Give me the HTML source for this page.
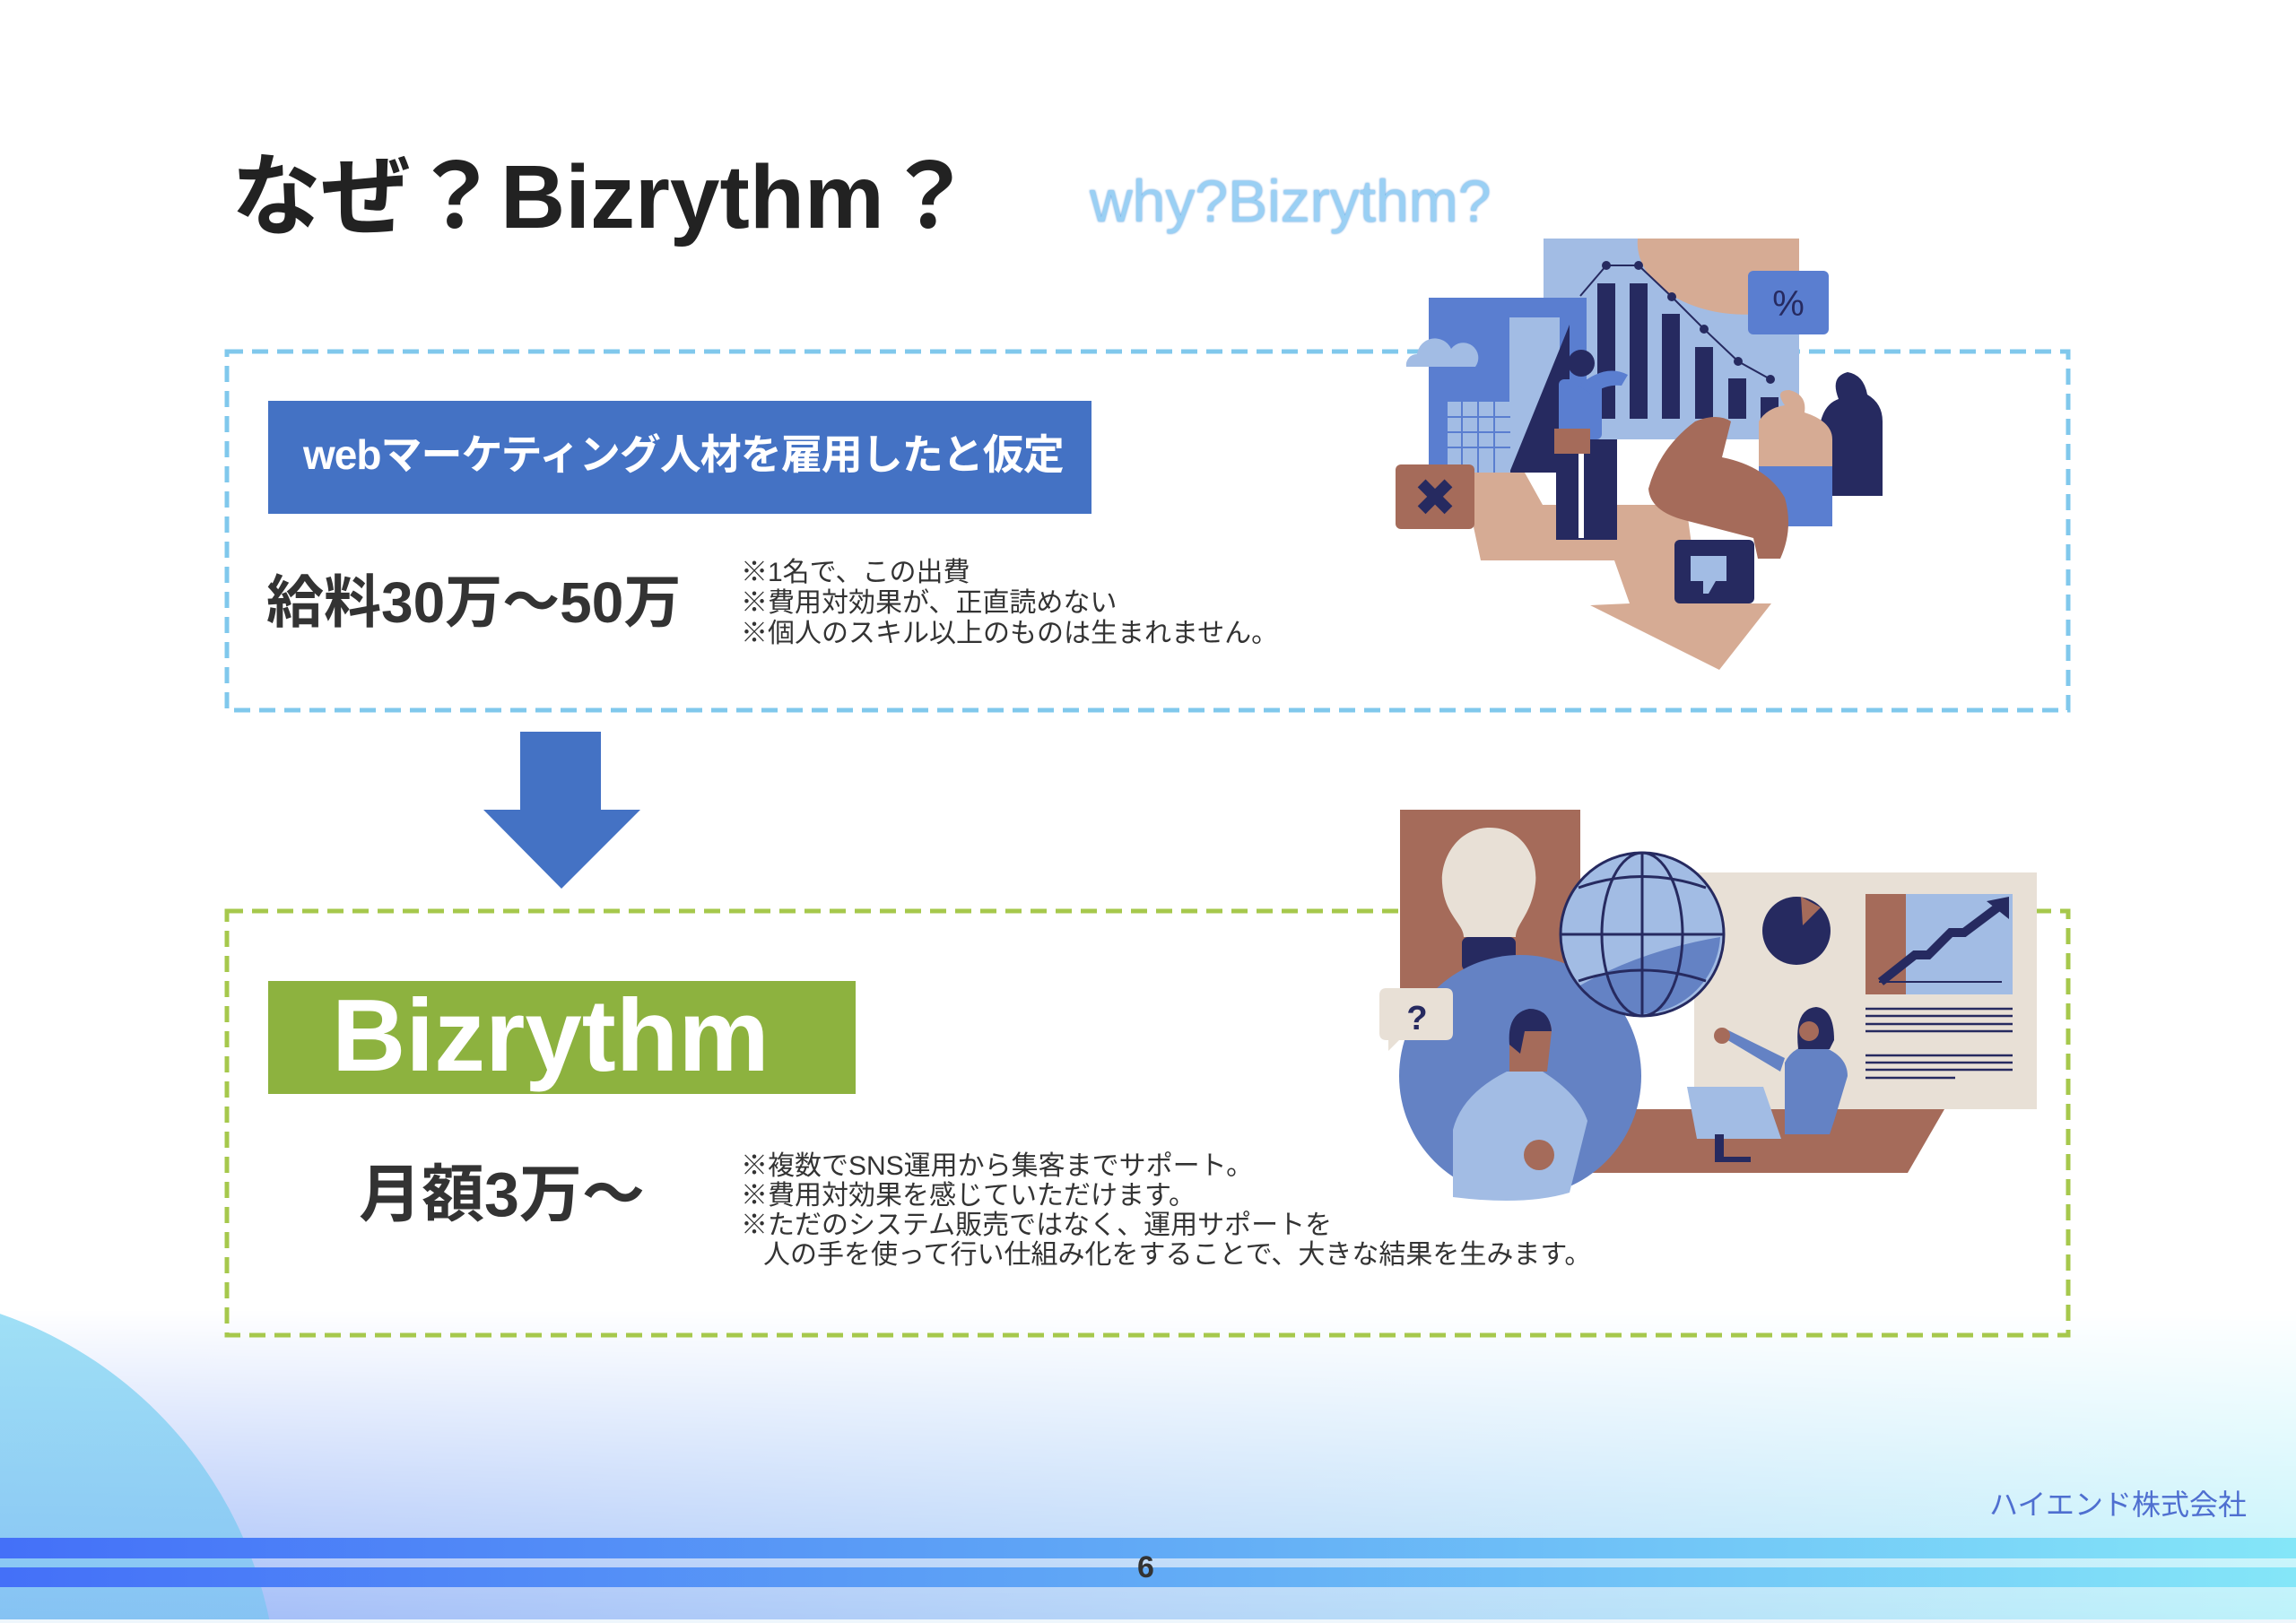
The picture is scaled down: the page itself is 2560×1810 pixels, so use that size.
<!DOCTYPE html>
<html style="overflow:hidden;width:2560px;height:1810px"><head><meta charset="utf-8">
<style>
html,body{margin:0;padding:0}
body{width:2560px;height:1810px;position:relative;overflow:hidden;background:#fff;font-family:"Liberation Sans","Noto Sans CJK JP",sans-serif;color:#2a2a2a}
.a{position:absolute;white-space:nowrap}
</style></head><body>
<svg class="a" style="left:0;top:0;display:block" width="2560" height="1810">
<defs>
<linearGradient id="bgh" x1="0" y1="0" x2="1" y2="0">
<stop offset="0" stop-color="#a0b8f8"/>
<stop offset="0.5" stop-color="#b4d4f8"/>
<stop offset="1" stop-color="#bcf2fa"/>
</linearGradient>
<linearGradient id="mg" x1="0" y1="0" x2="0" y2="1">
<stop offset="0" stop-color="#fff" stop-opacity="0"/>
<stop offset="1" stop-color="#fff" stop-opacity="1"/>
</linearGradient>
<mask id="m"><rect x="0" y="1460" width="2560" height="350" fill="url(#mg)"/></mask>
<linearGradient id="st" x1="0" y1="0" x2="1" y2="0">
<stop offset="0" stop-color="#4470f8"/>
<stop offset="0.45" stop-color="#5ea4f6"/>
<stop offset="1" stop-color="#84e6f8"/>
</linearGradient>
<linearGradient id="cir" x1="0" y1="0" x2="0" y2="1">
<stop offset="0" stop-color="#90dcf4"/>
<stop offset="1" stop-color="#6aa0f0"/>
</linearGradient>
</defs>
<rect x="0" y="1460" width="2560" height="350" fill="url(#bgh)" mask="url(#m)"/>
<circle cx="-150" cy="1900" r="460" fill="url(#cir)" opacity="0.85"/>
<rect x="0" y="1715" width="2560" height="23" fill="url(#st)"/>
<rect x="0" y="1748" width="2560" height="22" fill="url(#st)"/>
<rect x="0" y="1806" width="2560" height="4" fill="#eef6fc"/>

<rect x="253" y="392" width="2053" height="400" fill="none" stroke="#80c8ec" stroke-width="5" stroke-dasharray="18 10"/>
<rect x="253" y="1016" width="2053" height="473" fill="none" stroke="#a6c84c" stroke-width="5" stroke-dasharray="18 10"/>

<polygon points="580,816 670,816 670,903 714,903 626,991 539,903 580,903" fill="#4472c4"/>

<rect x="1721" y="266" width="285" height="224" fill="#a2bce4"/>
<path d="M1826,266 L2006,266 L2006,340 A120,80 0 0 1 1826,266Z" fill="#d6ab94"/>
<rect x="1593" y="332" width="176" height="195" fill="#5a7ed0"/>
<path d="M1568,409 a12,12 0 0 1 12,-14 a20,20 0 0 1 38,-6 a14,14 0 0 1 27,20Z" fill="#a2bce4"/>
<rect x="1683" y="354" width="56" height="173" fill="#a2bce4"/>
<polygon points="1683,527 1750,362 1750,527" fill="#262a60"/>
<rect x="1614" y="448" width="70" height="79" fill="#a2bce4"/>
<g stroke="#5a7ed0" stroke-width="2"><line x1="1614" y1="465" x2="1684" y2="465"/><line x1="1614" y1="482" x2="1684" y2="482"/><line x1="1614" y1="499" x2="1684" y2="499"/><line x1="1630" y1="448" x2="1630" y2="527"/><line x1="1648" y1="448" x2="1648" y2="527"/><line x1="1666" y1="448" x2="1666" y2="527"/></g>
<g fill="#262a60">
<rect x="1781" y="316" width="20" height="151"/><rect x="1817" y="316" width="20" height="151"/><rect x="1853" y="350" width="20" height="117"/><rect x="1890" y="387" width="20" height="80"/><rect x="1927" y="422" width="20" height="45"/><rect x="1963" y="443" width="20" height="24"/>
</g>
<polyline points="1762,330 1791,296 1827,296 1864,331 1900,367 1938,403 1974,423" fill="none" stroke="#262a60" stroke-width="2"/>
<g fill="#262a60"><circle cx="1791" cy="296" r="5"/><circle cx="1827" cy="296" r="5"/><circle cx="1864" cy="331" r="5"/><circle cx="1900" cy="367" r="5"/><circle cx="1938" cy="403" r="5"/><circle cx="1974" cy="423" r="5"/></g>
<rect x="1949" y="302" width="90" height="71" rx="6" fill="#5a7ed0"/>
<text x="1994" y="352" font-size="40" text-anchor="middle" fill="#262a60" font-family="Liberation Sans">%</text>
<polygon points="1630,527 1700,527 1720,563 1880,563 1895,673 1975,673 1917,747 1773,675 1817,673 1800,625 1651,625" fill="#d6ab94"/>
<rect x="1556" y="518" width="88" height="72" rx="6" fill="#a56b5a"/>
<text x="1600" y="575" font-size="58" font-weight="bold" text-anchor="middle" fill="#262a60" font-family="DejaVu Sans">✖</text>
<path d="M2030,553 L2030,470 Q2035,450 2050,445 Q2040,420 2060,415 Q2078,418 2082,440 Q2099,450 2099,470 L2099,553Z" fill="#262a60"/>
<path d="M1961,587 L1961,470 Q1970,455 1990,452 Q1978,435 1995,435 Q2015,440 2012,460 Q2043,470 2043,490 L2043,587Z" fill="#d6ab94"/>
<rect x="1961" y="520" width="82" height="67" fill="#5a7ed0"/>
<path d="M1838,545 Q1850,500 1890,470 Q1915,460 1930,470 L1920,510 Q1970,520 1990,555 Q2000,590 1985,623 L1960,623 L1955,600 L1878,580 Q1840,570 1838,545Z" fill="#a56b5a"/>
<rect x="1735" y="490" width="68" height="112" fill="#262a60"/>
<rect x="1760" y="490" width="6" height="110" fill="#fff"/>
<rect x="1738" y="423" width="48" height="67" rx="6" fill="#5a7ed0"/>
<path d="M1760,430 Q1790,405 1815,418 L1808,430 Q1790,428 1775,440Z" fill="#5a7ed0"/>
<circle cx="1763" cy="405" r="15" fill="#262a60"/>
<rect x="1733" y="478" width="40" height="28" fill="#a56b5a"/>
<rect x="1867" y="602" width="89" height="71" rx="6" fill="#262a60"/>
<path d="M1885,620 h40 v28 h-12 l-8,14 h-6 v-14 h-14z" fill="#a2bce4"/>

<rect x="1561" y="903" width="201" height="200" fill="#a56b5a"/>
<path d="M1661,923 C1700,923 1715,960 1712,985 C1708,1020 1690,1030 1690,1045 L1632,1045 C1632,1030 1610,1020 1608,985 C1606,958 1625,923 1661,923Z" fill="#e8e0d6"/>
<rect x="1630" y="1045" width="60" height="38" rx="7" fill="#262a60"/>
<rect x="1889" y="973" width="382" height="264" fill="#e8e0d6"/>
<polygon points="1810,1237 2168,1237 2127,1308 1771,1308" fill="#a56b5a"/>
<circle cx="1695" cy="1200" r="135" fill="#6482c4"/>
<path d="M1620,1335 L1620,1260 Q1630,1220 1680,1195 L1720,1195 Q1760,1220 1770,1250 L1750,1330 Q1700,1345 1620,1335Z" fill="#a2bce4"/>
<circle cx="1716" cy="1288" r="17" fill="#a56b5a"/>
<path d="M1683,1195 L1683,1160 Q1690,1130 1715,1130 Q1730,1135 1730,1150 L1725,1195Z" fill="#a56b5a"/>
<path d="M1683,1165 Q1680,1130 1705,1125 Q1728,1125 1730,1150 L1700,1150 L1695,1175Z" fill="#262a60"/>
<path d="M1538,1110 q0,-8 8,-8 h66 q8,0 8,8 v42 q0,8 -8,8 h-52 l-12,12 v-12 h-2 q-8,0 -8,-8z" fill="#e8e0d6"/>
<text x="1580" y="1148" font-size="38" font-weight="bold" text-anchor="middle" fill="#262a60" font-family="Liberation Sans">?</text>
<circle cx="1831" cy="1042" r="91" fill="#a2bce4"/>
<path d="M1760,1100 Q1830,1060 1918,1045 A91,91 0 0 1 1790,1123Z" fill="#6482c4"/>
<g fill="none" stroke="#262a60" stroke-width="3">
<circle cx="1831" cy="1042" r="91"/>
<ellipse cx="1831" cy="1042" rx="45" ry="91"/>
<line x1="1831" y1="951" x2="1831" y2="1133"/>
<line x1="1740" y1="1042" x2="1922" y2="1042"/>
<path d="M1760,990 Q1831,965 1902,990"/>
<path d="M1760,1094 Q1831,1070 1902,1094"/>
</g>
<circle cx="2003" cy="1038" r="38" fill="#262a60"/>
<path d="M2008,1000 L2030,1012 L2010,1032Z" fill="#a56b5a"/>
<rect x="2080" y="997" width="164" height="112" fill="#a2bce4"/>
<rect x="2080" y="997" width="45" height="112" fill="#a56b5a"/>
<polyline points="2097,1095 2135,1065 2150,1065 2175,1040 2190,1040 2230,1010" fill="none" stroke="#262a60" stroke-width="10"/>
<polygon points="2215,1005 2240,1000 2240,1025" fill="#262a60"/>
<line x1="2095" y1="1095" x2="2232" y2="1095" stroke="#262a60" stroke-width="2"/>
<g stroke="#262a60" stroke-width="2.5">
<line x1="2080" y1="1125" x2="2244" y2="1125"/><line x1="2080" y1="1133" x2="2244" y2="1133"/><line x1="2080" y1="1142" x2="2244" y2="1142"/><line x1="2080" y1="1150" x2="2244" y2="1150"/>
<line x1="2080" y1="1177" x2="2244" y2="1177"/><line x1="2080" y1="1185" x2="2244" y2="1185"/><line x1="2080" y1="1193" x2="2244" y2="1193"/><line x1="2080" y1="1202" x2="2180" y2="1202"/>
</g>
<path d="M1990,1265 L1990,1185 Q2000,1165 2025,1165 Q2060,1175 2060,1200 L2045,1250 L2040,1265Z" fill="#6482c4"/>
<path d="M1918,1155 L1925,1148 L1990,1180 L1985,1195Z" fill="#6482c4"/>
<circle cx="1920" cy="1155" r="9" fill="#a56b5a"/>
<path d="M2005,1170 Q2000,1125 2025,1123 Q2045,1125 2045,1160 L2040,1170Z" fill="#262a60"/>
<circle cx="2017" cy="1150" r="11" fill="#a56b5a"/>
<polygon points="1881,1212 1966,1212 1986,1270 1892,1270" fill="#a2bce4"/>
<rect x="1912" y="1265" width="10" height="30" fill="#262a60"/>
<rect x="1912" y="1290" width="40" height="6" fill="#262a60"/>
</svg>

<div class="a" style="left:258px;top:160px;font-size:100px;font-weight:bold;color:#222;line-height:120px">なぜ？Bizrythm？</div>
<div class="a" style="left:1215px;top:186px;font-size:66px;color:#9ad0f4;text-shadow:0 0 2px #4a90d8;line-height:76px">why?Bizrythm?</div>

<div class="a" style="left:299px;top:447px;width:918px;height:126px;background:#4472c4"></div>
<div class="a" style="left:338px;top:477px;font-size:46px;font-weight:bold;color:#fff;letter-spacing:-1px;line-height:60px">webマーケティング人材を雇用したと仮定</div>
<div class="a" style="left:297px;top:632px;font-size:64px;font-weight:bold;color:#333;line-height:80px">給料30万〜50万</div>
<div class="a" style="left:826px;top:622px;font-size:30px;line-height:34px;color:#333">※1名で、この出費<br>※費用対効果が、正直読めない<br>※個人のスキル以上のものは生まれません。</div>

<div class="a" style="left:299px;top:1094px;width:655px;height:126px;background:#8db23f"></div>
<div class="a" style="left:370px;top:1091px;font-size:114px;font-weight:bold;color:#fff;line-height:130px">Bizrythm</div>
<div class="a" style="left:400px;top:1290px;font-size:70px;font-weight:bold;color:#333;line-height:84px">月額3万〜</div>
<div class="a" style="left:826px;top:1284px;font-size:30px;line-height:33px;color:#333">※複数でSNS運用から集客までサポート。<br>※費用対効果を感じていただけます。<br>※ただのシステム販売ではなく、運用サポートを<br>&nbsp;&nbsp;&nbsp;人の手を使って行い仕組み化をすることで、大きな結果を生みます。</div>

<div class="a" style="left:2218px;top:1658px;font-size:32px;color:#4f6fd0;line-height:40px">ハイエンド株式会社</div>
<div class="a" style="left:1268px;top:1728px;font-size:34px;font-weight:bold;color:#333;line-height:40px">6</div>
</body></html>
